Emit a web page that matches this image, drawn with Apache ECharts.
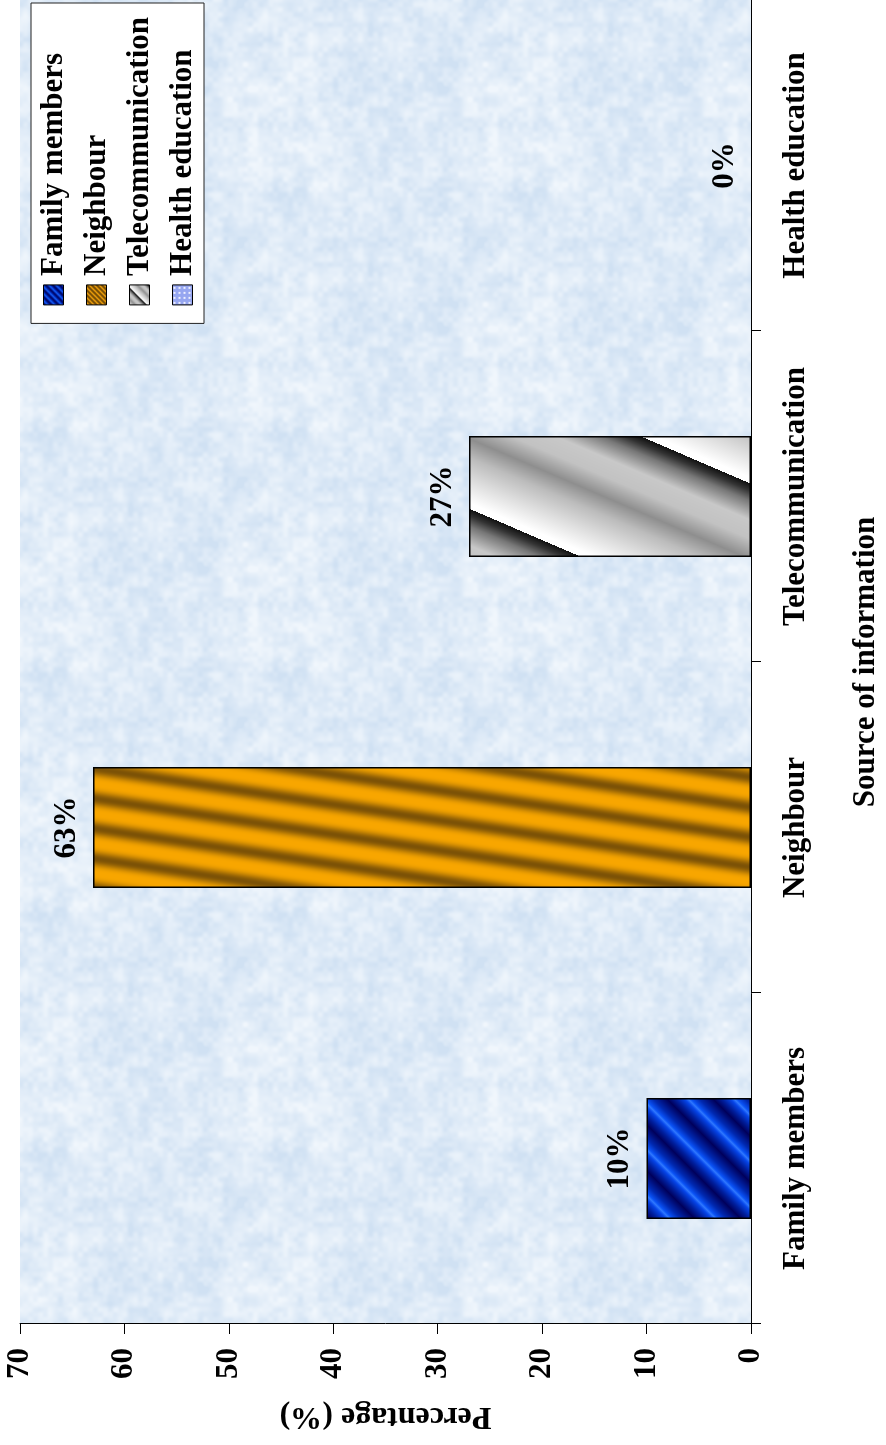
<!DOCTYPE html>
<html>
<head>
<meta charset="utf-8">
<script src="https://cdn.jsdelivr.net/npm/echarts@6/dist/echarts.min.js"></script>
<style>
  html, body { margin: 0; padding: 0; background: #ffffff; overflow: hidden; }
  body { width: 886px; height: 1445px; position: relative; }
  /* The chart is laid out landscape and turned a quarter turn counter-clockwise. */
  #chart {
    position: absolute; left: 0; top: 0;
    width: 1445px; height: 886px;
    transform-origin: 0 0;
    transform: translateY(1445px) rotate(-90deg);
  }
</style>
</head>
<body>
<div id="chart"></div>
<script>
// ---- data ----
const categories = ['Family members', 'Neighbour', 'Telecommunication', 'Health education'];
const percentages = [10, 63, 27, 0];
const axisMin = 0;
const axisMax = 70;
const axisStep = 10;

const FONT = "'Liberation Serif', 'Times New Roman', serif";

// ---- fill textures ----
function hexToRgb(h) {
  return [parseInt(h.slice(1, 3), 16), parseInt(h.slice(3, 5), 16), parseInt(h.slice(5, 7), 16)];
}
function rampFn(stops) {
  const s = stops.map(([p, c]) => [p, hexToRgb(c)]);
  return function (p) {
    for (let i = 1; i < s.length; i++) {
      if (p <= s[i][0]) {
        const a = s[i - 1], b = s[i];
        const t = (p - a[0]) / (b[0] - a[0] || 1);
        return [0, 1, 2].map(k => a[1][k] + (b[1][k] - a[1][k]) * t);
      }
    }
    return s[s.length - 1][1];
  };
}
function makeTile(w, h, fn) {
  const c = document.createElement('canvas');
  c.width = w; c.height = h;
  const ctx = c.getContext('2d');
  const img = ctx.createImageData(w, h);
  for (let y = 0; y < h; y++) {
    for (let x = 0; x < w; x++) {
      const col = fn(x, y);
      const i = (y * w + x) * 4;
      img.data[i] = col[0]; img.data[i + 1] = col[1]; img.data[i + 2] = col[2]; img.data[i + 3] = 255;
    }
  }
  ctx.putImageData(img, 0, 0);
  return c;
}
// Diagonal bands; period w across, tile height h sets the slant (w/h).
function stripeTile(w, h, profile, offset) {
  const s = w / h;
  return makeTile(w, h, (x, y) => {
    let p = ((-x - s * y - (offset || 0)) / w) % 1;
    if (p < 0) p += 1;
    return profile(p);
  });
}

const blueRamp = rampFn([[0, '#00005c'], [0.3, '#0028b0'], [0.48, '#0a52f5'], [0.54, '#2f78ff'],
  [0.62, '#0645e8'], [0.8, '#0020a0'], [1, '#00005c']]);
const orangeRamp = function (p) {
  const d = Math.pow(0.5 + 0.5 * Math.cos(2 * Math.PI * p), 1.6);
  const a = hexToRgb('#f8a600'), b = hexToRgb('#7c5206');
  return [0, 1, 2].map(k => a[k] + (b[k] - a[k]) * d);
};
const grayRamp = rampFn([[0, '#111111'], [0.05, '#333333'], [0.12, '#777777'], [0.25, '#c8c8c8'],
  [0.38, '#c2c2c2'], [0.52, '#8e8e8e'], [0.65, '#bcbcbc'], [0.8, '#dddddd'], [0.96, '#ffffff'], [1, '#ffffff']]);

const bluePattern = { image: stripeTile(46, 46, blueRamp), repeat: 'repeat' };
const orangePattern = { image: stripeTile(30, 200, orangeRamp), repeat: 'repeat' };
const grayPattern = { image: stripeTile(146, 340, grayRamp, 31), repeat: 'repeat' };
const dotPattern = {
  image: makeTile(5, 5, (x, y) => ((x === 1 || x === 2) && (y === 1 || y === 2)) ? [238, 240, 255] : [150, 166, 240]),
  repeat: 'repeat'
};
const fills = [bluePattern, orangePattern, grayPattern, dotPattern];

const iconFills = [
  { image: stripeTile(7, 7, blueRamp), repeat: 'repeat' },
  { image: stripeTile(5, 5, p => p < 0.45 ? [120, 78, 6] : [240, 160, 10]), repeat: 'repeat' },
  { image: stripeTile(22, 22, grayRamp, 6), repeat: 'repeat' },
  dotPattern
];

// Soft mottled paper behind the plot
function hash(i, j) {
  const v = Math.sin(i * 127.1 + j * 311.7) * 43758.5453;
  return v - Math.floor(v);
}
function valueNoise(x, y, cell, n) {
  const gx = x / cell, gy = y / cell;
  const i = Math.floor(gx), j = Math.floor(gy);
  const fx = gx - i, fy = gy - j;
  const ux = fx * fx * (3 - 2 * fx), uy = fy * fy * (3 - 2 * fy);
  const a = hash(i % n, j % n), b = hash((i + 1) % n, j % n);
  const c = hash(i % n, (j + 1) % n), d = hash((i + 1) % n, (j + 1) % n);
  return (a * (1 - ux) + b * ux) * (1 - uy) + (c * (1 - ux) + d * ux) * uy;
}
const paperLo = hexToRgb('#d0e1f3'), paperHi = hexToRgb('#f0f6fc');
const paperPattern = {
  image: makeTile(240, 240, (x, y) => {
    const v = 0.3 * valueNoise(x, y, 40, 6) + 0.4 * valueNoise(x, y, 12, 20) + 0.3 * valueNoise(x, y, 5, 48);
    const t = Math.min(1, Math.max(0, (v - 0.2) * 1.6));
    return [0, 1, 2].map(k => paperLo[k] + (paperHi[k] - paperLo[k]) * t);
  }),
  repeat: 'repeat'
};

// ---- chart ----
const chart = echarts.init(document.getElementById('chart'), null, { renderer: 'canvas', width: 1445, height: 886 });

const labelText = { fontFamily: FONT, fontWeight: 'bold', fontSize: 31, color: '#000' };

const series = categories.map((name, i) => ({
  name: name,
  type: 'bar',
  stack: 'source',
  barWidth: 121,
  data: percentages.map((v, j) => (j === i ? v : '-')),
  itemStyle: { color: fills[i], borderColor: '#000', borderWidth: percentages[i] > 0 ? 1.5 : 0 },
  label: {
    show: true,
    position: 'top',
    distance: 11,
    formatter: '{c}%',
    ...labelText
  }
}));

chart.setOption({
  animation: false,
  grid: {
    left: 121, right: -5, top: 20, bottom: 134,
    show: true, borderWidth: 0,
    backgroundColor: paperPattern
  },
  legend: {
    orient: 'vertical',
    right: 3, top: 31,
    backgroundColor: '#ffffff',
    borderColor: '#222',
    borderWidth: 1,
    padding: [7, 14, 6, 18],
    itemGap: 12,
    itemWidth: 20,
    itemHeight: 20,
    icon: 'rect',
    textStyle: { ...labelText, padding: [0, 0, 0, 4] },
    data: categories.map((name, i) => ({
      name: name,
      itemStyle: { color: iconFills[i], borderColor: '#000', borderWidth: 1 }
    }))
  },
  xAxis: {
    type: 'category',
    data: categories,
    name: 'Source of information',
    nameLocation: 'middle',
    nameGap: 99,
    nameTextStyle: labelText,
    axisLine: { show: true, lineStyle: { color: '#000', width: 1 } },
    axisTick: { show: true, alignWithLabel: false, length: 10, lineStyle: { color: '#000', width: 1 } },
    axisLabel: { margin: 29, interval: 0, ...labelText },
    splitLine: { show: false }
  },
  yAxis: {
    type: 'value',
    min: axisMin,
    max: axisMax,
    interval: axisStep,
    name: 'Percentage (%)',
    nameLocation: 'middle',
    nameRotate: 90,
    nameGap: 76,
    nameTextStyle: { ...labelText, fontSize: 32 },
    axisLine: { show: true, lineStyle: { color: '#000', width: 1 } },
    axisTick: { show: true, length: 10, lineStyle: { color: '#000', width: 1 } },
    axisLabel: { margin: 24, ...labelText },
    splitLine: { show: false }
  },
  series: series
});
</script>
</body>
</html>
